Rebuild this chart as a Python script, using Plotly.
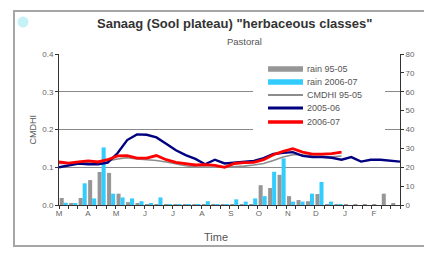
import plotly.graph_objects as go

# ---------------- data ----------------
months = ["M", "A", "M", "J", "J", "A", "S", "O", "N", "D", "J", "F"]
month_start_day = [0, 31, 61, 92, 122, 153, 184, 214, 245, 275, 306, 337]  # days from 1 March

rain_95_05 = [3.7, 1.0, 3.7, 13.2, 17.5, 17.0, 6.0, 1.5, 0.8, 0.5, 0.3, 0.3,
              0.3, 0.3, 0.3, 0.3, 0.3, 0.3, 0.3, 0.5, 0.5, 10.5, 9.0, 16.0,
              4.7, 2.6, 2.0, 5.8, 0.5, 0.3, 0.3, 0.5, 0.5, 0.3, 6.0, 1.0]
rain_2006_07 = [1.2, 0.8, 11.5, 3.5, 30.5, 6.0, 4.0, 3.5, 2.0, 0.8, 4.0, 0.5,
                0.3, 0.3, 0.5, 2.0, 0.5, 0.5, 3.0, 1.8, 3.5, 4.7, 17.6, 24.7,
                1.8, 1.8, 6.0, 12.2, 1.8, 0.5]

cmdhi_95_05 = [0.110, 0.110, 0.112, 0.114, 0.115, 0.117, 0.122, 0.125, 0.122, 0.120,
               0.118, 0.114, 0.108, 0.104, 0.101, 0.100, 0.100, 0.100, 0.101, 0.103,
               0.106, 0.110, 0.118, 0.127, 0.133, 0.133, 0.130, 0.128, 0.128, 0.130]
cmdhi_2005_06 = [0.100, 0.104, 0.110, 0.108, 0.108, 0.112, 0.137, 0.172, 0.187, 0.186,
                 0.179, 0.162, 0.145, 0.132, 0.122, 0.108, 0.120, 0.110, 0.112, 0.114,
                 0.117, 0.124, 0.135, 0.138, 0.140, 0.130, 0.127, 0.127, 0.125, 0.120,
                 0.127, 0.115, 0.120, 0.120, 0.118, 0.115]
cmdhi_2006_07 = [0.114, 0.111, 0.114, 0.117, 0.114, 0.120, 0.130, 0.131, 0.124, 0.124,
                 0.131, 0.120, 0.113, 0.109, 0.106, 0.107, 0.105, 0.100, 0.110, 0.112,
                 0.113, 0.120, 0.133, 0.142, 0.149, 0.140, 0.135, 0.135, 0.136, 0.140]

series_names = ["rain 95-05", "rain 2006-07", "CMDHI 95-05", "2005-06", "2006-07"]

n_dekads = 36
bar_x = [k + 0.5 for k in range(n_dekads)]
line_x = [k * n_dekads / (n_dekads - 1) for k in range(n_dekads)]
month_ticks = [d * n_dekads / 365 for d in month_start_day]

X_RANGE = [0, n_dekads]
Y_MM_RANGE = [0, 80]
Y_CMDHI_RANGE = [0, 0.4]

FONT = "Liberation Sans, Arial, sans-serif"
GRAY_BAR = "#969696"
CYAN = "#33ccff"
GRAY_LINE = "#8c8c8c"
NAVY = "#000080"
RED = "#ff0000"

fig = go.Figure()

# bars (rain, mm) on primary axis (right side) so they stay behind the lines
fig.add_trace(go.Bar(x=bar_x[:len(rain_95_05)], y=rain_95_05, name=series_names[0],
                     marker=dict(color=GRAY_BAR, line=dict(width=0)), yaxis="y"))
fig.add_trace(go.Bar(x=bar_x[:len(rain_2006_07)], y=rain_2006_07, name=series_names[1],
                     marker=dict(color=CYAN, line=dict(width=0)), yaxis="y"))

# CMDHI lines on the overlay axis (left side)
fig.add_trace(go.Scatter(x=line_x[:len(cmdhi_95_05)], y=cmdhi_95_05, mode="lines",
                         name=series_names[2], line=dict(color=GRAY_LINE, width=1.6),
                         yaxis="y2"))
fig.add_trace(go.Scatter(x=line_x[:len(cmdhi_2005_06)], y=cmdhi_2005_06, mode="lines",
                         name=series_names[3], line=dict(color=NAVY, width=2.4),
                         yaxis="y2"))
fig.add_trace(go.Scatter(x=line_x[:len(cmdhi_2006_07)], y=cmdhi_2006_07, mode="lines",
                         name=series_names[4], line=dict(color=RED, width=2.8),
                         yaxis="y2"))

tickfont = dict(family=FONT, size=8, color="#666666")


def frac_x(frac):
    return X_RANGE[0] + frac * (X_RANGE[1] - X_RANGE[0])


def frac_y(frac):
    return Y_MM_RANGE[0] + frac * (Y_MM_RANGE[1] - Y_MM_RANGE[0])


# ----- compact legend drawn with shapes + text -----
leg_rows = [0.9007, 0.8146, 0.7285, 0.6424, 0.5497]
sym_x0, sym_x1, txt_x = 0.613, 0.7155, 0.7214
half_bar = 0.019
shapes = [
    # legend background, in the main subplot between gridlines and traces
    dict(type="rect", xref="x", yref="y", x0=frac_x(0.569), x1=frac_x(0.956),
         y0=frac_y(0.477), y1=frac_y(0.974), fillcolor="white", line=dict(width=0),
         layer="between"),
    dict(type="rect", xref="paper", yref="paper", x0=-0.132, x1=1.11,
         y0=-0.272, y1=1.285, line=dict(color="#a6a6a6", width=2)),
    dict(type="circle", xref="paper", yref="paper", x0=-0.1217, x1=-0.0894,
         y0=1.1755, y1=1.248, fillcolor="#c4f2f7", line=dict(width=0)),
]
for yv, col in zip(leg_rows[:2], [GRAY_BAR, CYAN]):
    shapes.append(dict(type="rect", xref="paper", yref="paper", x0=sym_x0, x1=sym_x1,
                       y0=yv - half_bar, y1=yv + half_bar, fillcolor=col,
                       line=dict(width=0)))
for yv, col, w in zip(leg_rows[2:], [GRAY_LINE, NAVY, RED], [2, 3, 3.5]):
    shapes.append(dict(type="line", xref="paper", yref="paper", x0=sym_x0, x1=sym_x1,
                       y0=yv, y1=yv, line=dict(color=col, width=w)))

annotations = [
    dict(text='<b>Sanaag (Sool plateau) "herbaceous classes"</b>', xref="paper",
         yref="paper", x=0.515, y=1.199, xanchor="center", yanchor="middle",
         showarrow=False, font=dict(family=FONT, size=13, color="#333333")),
    dict(text="Pastoral", xref="paper", yref="paper", x=0.545, y=1.08,
         xanchor="center", yanchor="middle", showarrow=False,
         font=dict(family=FONT, size=9.5, color="#555555")),
    dict(text="Time", xref="paper", yref="paper", x=0.46, y=-0.212,
         xanchor="center", yanchor="middle", showarrow=False,
         font=dict(family=FONT, size=11, color="#555555")),
    dict(text="CMDHI", xref="paper", yref="paper", x=-0.079, y=0.5,
         xanchor="center", yanchor="middle", textangle=-90, showarrow=False,
         font=dict(family=FONT, size=9, color="#555555")),
    dict(text="mm", xref="paper", yref="paper", x=1.085, y=0.5,
         xanchor="center", yanchor="middle", textangle=90, showarrow=False,
         font=dict(family=FONT, size=9, color="#555555")),
]
for yv, name in zip(leg_rows, series_names):
    annotations.append(dict(text=name, xref="paper", yref="paper", x=txt_x, y=yv,
                            xanchor="left", yanchor="middle", showarrow=False,
                            font=dict(family=FONT, size=9, color="#555555")))

fig.update_layout(
    width=432, height=253,
    margin=dict(l=51, r=40, t=46, b=56),
    paper_bgcolor="white", plot_bgcolor="white",
    barmode="group", bargap=0.15, bargroupgap=0,
    showlegend=False,
    xaxis=dict(range=X_RANGE, tickmode="array", tickvals=month_ticks,
               ticktext=months, ticks="", showgrid=False, zeroline=False,
               showline=True, linecolor="#333333", linewidth=1,
               tickfont=tickfont,
               minor=dict(tick0=0, dtick=1, ticks="outside", ticklen=3,
                          tickcolor="#333333", showgrid=False)),
    yaxis=dict(range=Y_MM_RANGE, dtick=10, side="right", showgrid=False,
               zeroline=False, showline=True, linecolor="#333333", linewidth=1,
               ticks="outside", ticklen=3, tickcolor="#333333", tickfont=tickfont),
    yaxis2=dict(range=Y_CMDHI_RANGE, dtick=0.1, tickformat=".1f", overlaying="y",
                side="left", showgrid=True, gridcolor="#8a8a8a", gridwidth=1,
                zeroline=False, showline=True, linecolor="#333333", linewidth=1,
                ticks="outside", ticklen=3, tickcolor="#333333", tickfont=tickfont),
    annotations=annotations,
    shapes=shapes,
)

fig.write_html("out.html")
